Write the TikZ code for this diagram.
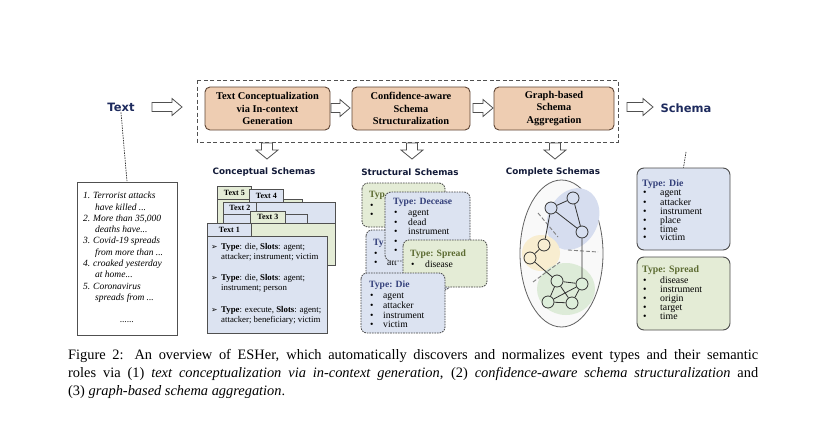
\documentclass[tikz,border=0pt]{standalone}
\usepackage{fontspec}
\setmainfont{Liberation Serif}
\newfontfamily\lblfont{DejaVu Sans}
\newfontfamily\dingfont{DejaVu Sans}
\definecolor{navy}{HTML}{1E2B5E}
\definecolor{tanfill}{HTML}{EECDB2}
\definecolor{tanline}{HTML}{5E4535}
\definecolor{bfill}{HTML}{DCE3F1}
\definecolor{gfill}{HTML}{E4ECD6}
\definecolor{btext}{HTML}{34407A}
\definecolor{gtext}{HTML}{5C6B32}
\definecolor{frame}{HTML}{505050}
\definecolor{blobB}{HTML}{D6DDEF}
\definecolor{blobY}{HTML}{F8EDD0}
\definecolor{blobG}{HTML}{DDEBD8}
\definecolor{nodeB}{HTML}{D7DFF0}
\definecolor{nodeY}{HTML}{F8EED2}
\definecolor{nodeG}{HTML}{DDEEDA}
\newcommand{\hollowH}[3]{\draw[hollow] (#1,#3-4.5) -- (#2-10,#3-4.5) -- (#2-10,#3-8.5) -- (#2,#3) -- (#2-10,#3+8.5) -- (#2-10,#3+4.5) -- (#1,#3+4.5) -- cycle;}
\newcommand{\hollowV}[3]{\draw[hollow] (#1-5.5,#2) -- (#1+5.5,#2) -- (#1+5.5,#3-9) -- (#1+11,#3-9) -- (#1,#3) -- (#1-11,#3-9) -- (#1-5.5,#3-9) -- cycle;}
\newcommand{\bl}[2][15pt]{\makebox[#1][l]{\hspace*{1pt}•}#2}
\newcommand{\abul}{\makebox[10pt][l]{{\dingfont\fontsize{7.8}{7.8}\selectfont ➢}}}
\begin{document}
\begin{tikzpicture}[x=1pt,y=-1pt,
  hollow/.style={draw=frame, fill=white, line width=0.8pt, line join=miter},
  stage/.style={draw=tanline, fill=tanfill, rounded corners=5pt, line width=0.9pt, align=center, inner sep=0pt, minimum height=43pt, font=\bfseries\fontsize{10.4}{12.4}\selectfont},
  biglbl/.style={font=\lblfont\bfseries\fontsize{11.5}{13}\selectfont, text=navy, inner sep=1pt},
  sublbl/.style={font=\lblfont\bfseries\fontsize{8.8}{10}\selectfont, text=navy!60!black, inner sep=1pt},
  tab/.style={draw=frame, line width=0.7pt, font=\bfseries\fontsize{8}{9}\selectfont, inner sep=0pt, align=center, anchor=north west, minimum height=13pt},
  sheet/.style={draw=frame, line width=0.7pt},
  sbox/.style={draw=black!75, dash pattern=on 1.6pt off 1pt, rounded corners=6pt, line width=0.8pt},
  rbox/.style={draw=black!70, rounded corners=7pt, line width=0.9pt, minimum width=93pt, inner sep=0pt},
  stxt/.style={anchor=north west, inner sep=0pt, align=left, font=\fontsize{9.6}{9.6}\selectfont},
  rtxt/.style={anchor=north west, inner sep=0pt, align=left, font=\fontsize{9.8}{8.8}\selectfont},
  ctxt/.style={anchor=north west, inner sep=0pt, align=left, font=\fontsize{8.8}{10.6}\selectfont},
  gnode/.style={circle, draw=black!80, line width=0.8pt, minimum size=12pt, inner sep=0pt},
  gedge/.style={draw=black!80, line width=0.8pt},
  cut/.style={draw=gray, line width=0.9pt, dash pattern=on 4pt off 2pt},
  vline/.style={draw=black!80, line width=0.7pt, dash pattern=on 1.5pt off 1pt},
]
\fill[white] (0,0) rectangle (821,420);
\useasboundingbox (0,0) rectangle (821,420);

% ---------- top pipeline ----------
\draw[draw=frame, line width=0.8pt, dash pattern=on 4pt off 2.5pt] (197,80) rectangle (618,142);
\node[stage, minimum width=125pt] (s1) at (267.5,108.5) {Text Conceptualization\\via In-context\\Generation};
\node[stage, minimum width=118pt] (s2) at (411,108.5) {Confidence-aware\\Schema\\Structuralization};
\node[stage, minimum width=120pt] (s3) at (554,108.5) {Graph-based\\Schema\\Aggregation};
\node[biglbl] (txt) at (121,107) {Text};
\node[biglbl] (sch) at (686,108) {Schema};

\hollowH{152}{182}{107}
\hollowH{331}{350}{108}
\hollowH{473}{493}{108}
\hollowH{627}{653}{107}
\hollowV{267}{143}{159}
\hollowV{412}{143}{159}
\hollowV{555}{143}{159}

\node[sublbl] (lc) at (264,172) {Conceptual Schemas};
\node[sublbl] (ls) at (410,172) {Structural Schemas};
\node[sublbl] (lp) at (553,172) {Complete Schemas};

% ---------- text documents ----------
\node[draw=frame, line width=0.7pt, minimum width=100pt, minimum height=153pt, inner sep=0pt] (docs) at (127,258.5) {};
\node[anchor=north west, inner sep=0pt, align=left, font=\itshape\fontsize{9.5}{11.3}\selectfont] (doctext) at (83,192)
 {\makebox[10pt][l]{1.}Terrorist attacks\\
  \hspace*{12pt}have killed ...\\
  \makebox[10pt][l]{2.}More than 35,000\\
  \hspace*{12pt}deaths have...\\
  \makebox[10pt][l]{3.}Covid-19 spreads\\
  \hspace*{12pt}from more than ...\\
  \makebox[10pt][l]{4.}croaked yesterday\\
  \hspace*{12pt}at home...\\
  \makebox[10pt][l]{5.}Coronavirus\\
  \hspace*{12pt}spreads from ...};
\node[inner sep=0pt, font=\itshape\fontsize{9.3}{11}\selectfont] (dots) at (127,322) {......};
\draw[vline] (txt.south) -- (docs.north);

% ---------- conceptual schemas stack ----------
\filldraw[sheet, fill=gfill] (217,199) rectangle (302,250);
\node[tab, fill=gfill, minimum width=34pt] (t5) at (217,186) {Text 5};
\filldraw[sheet, fill=bfill] (249,202) rectangle (302,255);
\node[tab, fill=bfill, minimum width=34pt] (t4) at (249,189) {Text 4};
\filldraw[sheet, fill=bfill] (223,202) rectangle (335,265);
\node[tab, fill=bfill, minimum width=33pt, minimum height=12pt] (t2) at (223,202) {Text 2};
\filldraw[sheet, fill=bfill] (252,214) rectangle (307,223);
\node[tab, fill=gfill, minimum width=35pt, minimum height=12pt] (t3) at (250,211) {Text 3};
\filldraw[sheet, fill=gfill] (250,223) rectangle (335,265);
\node[tab, fill=bfill, minimum width=44pt] (t1) at (207,223) {Text 1};
\filldraw[sheet, fill=bfill] (207,236) rectangle (327,333);
\node[ctxt] (c1) at (211,243) {\abul\textbf{Type}: die, \textbf{Slots}: agent;\\\hspace*{10pt}attacker; instrument; victim};
\node[ctxt] (c2) at (211,274) {\abul\textbf{Type}: die, \textbf{Slots}: agent;\\\hspace*{10pt}instrument; person};
\node[ctxt] (c3) at (211,306) {\abul\textbf{Type}: execute, \textbf{Slots}: agent;\\\hspace*{10pt}attacker; beneficiary; victim};

% ---------- structural schemas ----------
\filldraw[sbox, fill=gfill] (362,183) rectangle (445,227);
\node[stxt] (sa) at (369,191) {\textcolor{gtext}{\textbf{Typ}}\\[1pt]\bl{}\\\bl{}};
\filldraw[sbox, fill=bfill] (366,230) rectangle (450,290);
\node[stxt] (sb) at (373,239) {\textcolor{btext}{\textbf{Ty}}\\[1pt]\bl[14pt]{}\\\bl[14pt]{att}};
\filldraw[sbox, fill=bfill] (385,192) rectangle (470,261);
\node[stxt] (sd) at (393,198) {\textcolor{btext}{\textbf{Type: Decease}}\\[1.5pt]\bl{agent}\\\bl{dead}\\\bl{instrument}\\\bl{}\\\bl{}};
\filldraw[sbox, fill=gfill] (403,240) rectangle (487,287);
\node[stxt] (ssp) at (410,250) {\textcolor{gtext}{\textbf{Type: Spread}}\\[1.5pt]\bl{disease}};
\filldraw[sbox, fill=bfill] (361,273) rectangle (445,333);
\node[stxt] (sdie) at (369,281) {\textcolor{btext}{\textbf{Type: Die}}\\[1.5pt]\bl[14pt]{agent}\\\bl[14pt]{attacker}\\\bl[14pt]{instrument}\\\bl[14pt]{victim}};

% ---------- complete schemas ----------
\draw[draw=gray!75!black, fill=gray!5, line width=0.8pt] (561.5,253.5) ellipse [x radius=41.5pt, y radius=73.5pt];
\fill[blobB, rotate around={-25:(573,219)}] (573,219) ellipse [x radius=25pt, y radius=32pt];
\fill[blobY] (541,253) ellipse [x radius=19pt, y radius=18pt];
\fill[blobG] (566,289) ellipse [x radius=29pt, y radius=26pt];
\draw[cut] (538,213) -- (558,237);
\draw[cut] (533,282) -- (560,262);
\draw[cut] (568,250) -- (598,252);
\node[gnode, fill=nodeB] (g1) at (551,208) {};
\node[gnode, fill=nodeB] (g2) at (573,198) {};
\node[gnode, fill=nodeB] (g3) at (582,232) {};
\node[gnode, fill=nodeY] (g4) at (544,245) {};
\node[gnode, fill=nodeY] (g5) at (530,258) {};
\node[gnode, fill=nodeG] (g6) at (557,281) {};
\node[gnode, fill=nodeG] (g7) at (582,284) {};
\node[gnode, fill=nodeG] (g8) at (548,302) {};
\node[gnode, fill=nodeG] (g9) at (572,303) {};
\draw[gedge] (g1) -- (g2) (g2) -- (g3) (g1) -- (g3) (g1) -- (g4) (g4) -- (g5) (g5) -- (g6)
  (g3) -- (g7) (g6) -- (g7) (g6) -- (g8) (g6) -- (g9) (g7) -- (g9) (g8) -- (g9) (g8) -- (g7);

% ---------- final schemas ----------
\node[rbox, fill=bfill, minimum height=82pt] (rdie) at (683.5,209) {};
\node[rbox, fill=gfill, minimum height=73pt] (rspread) at (683.5,293.5) {};
\node[rtxt] (rdt) at (642,179) {\textcolor{btext}{\textbf{Type: Die}}\\[1pt]\bl[18pt]{agent}\\\bl[18pt]{attacker}\\\bl[18pt]{instrument}\\\bl[18pt]{place}\\\bl[18pt]{time}\\\bl[18pt]{victim}};
\node[rtxt] (rst) at (642,265) {\textcolor{gtext}{\textbf{Type: Spread}}\\[2pt]\bl[18pt]{disease}\\\bl[18pt]{instrument}\\\bl[18pt]{origin}\\\bl[18pt]{target}\\\bl[18pt]{time}};
\coordinate (schline) at (686,152);
\draw[vline] (schline) -- (rdie.north);

% ---------- caption ----------
\node[anchor=north west, inner sep=0pt, text width=690pt, align=justify, font=\fontsize{14.4}{18}\selectfont] (cap) at (68,349)
 {Figure 2: An overview of ESHer, which automatically discovers and normalizes event types and their semantic\linebreak
 roles via (1) \textit{text conceptualization via in-context generation}, (2) \textit{confidence-aware schema structuralization} and\linebreak
 (3) \textit{graph-based schema aggregation}.};
\end{tikzpicture}
\end{document}
